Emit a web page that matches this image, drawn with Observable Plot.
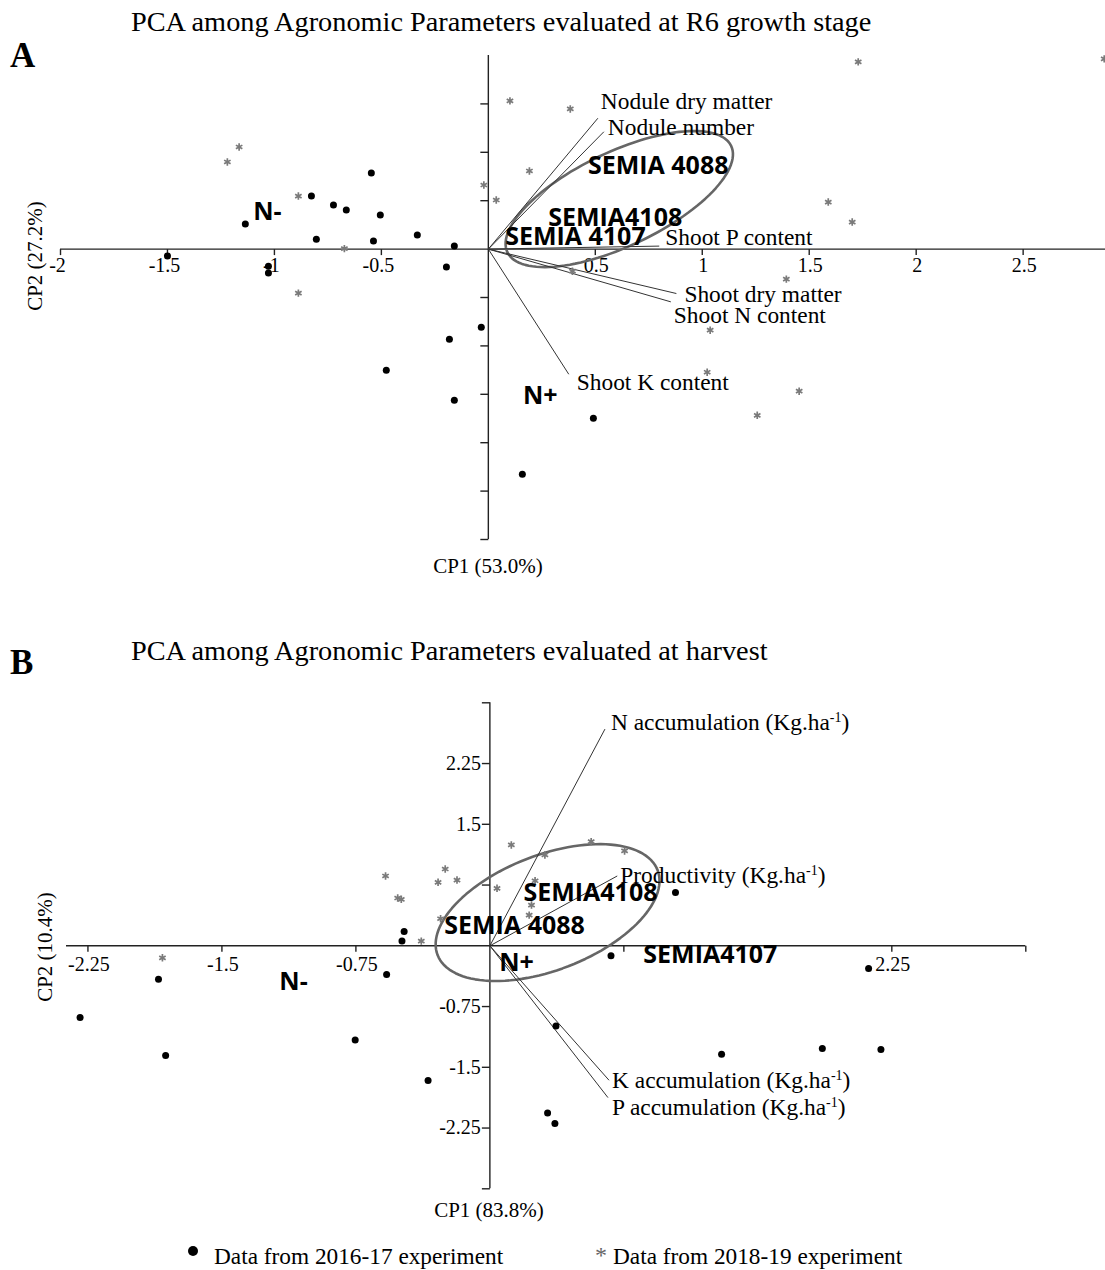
<!DOCTYPE html>
<html>
<head>
<meta charset="utf-8">
<script src="https://cdn.jsdelivr.net/npm/d3@7"></script>
<script src="https://cdn.jsdelivr.net/npm/@observablehq/plot@0.6"></script>
<style>
  body { margin: 0; background: #fff; }
  #page { position: relative; width: 1105px; height: 1270px; overflow: hidden; font-family: "Liberation Serif", "Times New Roman", serif; color: #000; }
  .abs { position: absolute; white-space: nowrap; line-height: 1; }
  .c { transform: translate(-50%, -50%); }
  .l { transform: translate(0, -50%); }
  .title { font-size: 28.3px; }
  .panelLetter { font-size: 35px; font-weight: bold; }
  .axlab { font-size: 21px; }
  .rot { transform: translate(-50%, -50%) rotate(-90deg); }
  .leg { font-size: 23.3px; }
  .plot { position: absolute; left: 0; }
  .plot svg { overflow: visible; display: block; }
</style>
</head>
<body>
<div id="page">
  <div class="abs l title" style="left:131px; top:22px;">PCA among Agronomic Parameters evaluated at R6 growth stage</div>
  <div class="abs l panelLetter" style="left:10px; top:55px;">A</div>
  <div id="plotA" class="plot" style="top:-2px;"></div>
  <div class="abs rot axlab" style="left:35px; top:256px;">CP2 (27.2%)</div>
  <div class="abs c axlab" style="left:488px; top:566px;">CP1 (53.0%)</div>

  <div class="abs l title" style="left:131px; top:651px;">PCA among Agronomic Parameters evaluated at harvest</div>
  <div class="abs l panelLetter" style="left:10px; top:662px;">B</div>
  <div id="plotB" class="plot" style="top:639px;"></div>
  <div class="abs rot axlab" style="left:45px; top:947px;">CP2 (10.4%)</div>
  <div class="abs c axlab" style="left:489px; top:1210px;">CP1 (83.8%)</div>

  <div class="abs" style="left:188px; top:1246px; width:10px; height:10px; border-radius:50%; background:#000;"></div>
  <div class="abs l leg" style="left:214px; top:1257px;">Data from 2016-17 experiment</div>
  <div class="abs l leg" style="left:595px; top:1255px; color:#666; font-size:24px;">*</div>
  <div class="abs l leg" style="left:613px; top:1257px;">Data from 2018-19 experiment</div>
</div>

<script>
// ---------------- Panel A data (R6 growth stage) ----------------
const xTicksA = [-2, -1.5, -1, -0.5, 0.5, 1, 1.5, 2, 2.5];
const xTickLabelsA = ["-2", "-1.5", "-1", "-0.5", "0.5", "1", "1.5", "2", "2.5"];
const yTicksA = [1.5, 1, 0.5, -0.5, -1, -1.5, -2, -2.5, -3];

const dotsA_x = [-0.547, -0.827, -0.724, -0.664, -0.505, -1.136, -0.804, -0.537, -0.332, -0.159, -1.50, -1.028, -1.028, -0.196, -0.033, -0.182, -0.477, -0.159, 0.491, 0.159];
const dotsA_y = [0.786, 0.548, 0.455, 0.403, 0.352, 0.259, 0.103, 0.083, 0.145, 0.031, -0.072, -0.176, -0.248, -0.186, -0.807, -0.931, -1.251, -1.561, -1.748, -2.327];

const starsA_x = [-1.165, -1.22, -0.888, -0.673, -0.888, 0.101, 0.383, 0.192, -0.021, 0.037, 1.729, 2.879, 1.589, 1.701, 1.393, 1.037, 1.023, 1.453, 1.257, 0.393];
const starsA_y = [1.055, 0.90, 0.548, 0.005, -0.455, 1.531, 1.448, 0.807, 0.662, 0.507, 1.934, 1.965, 0.486, 0.279, -0.31, -0.838, -1.272, -1.468, -1.717, -0.228];

const varsA = ["Nodule dry matter", "Nodule number", "Shoot P content", "Shoot dry matter", "Shoot N content", "Shoot K content"];
const varsA_x = [0.512, 0.540, 0.799, 0.879, 0.853, 0.376];
const varsA_y = [1.352, 1.212, 0.031, -0.459, -0.545, -1.293];

const groupsA = ["SEMIA 4088", "SEMIA4108", "SEMIA 4107", "N-", "N+"];
const groupsA_x = [0.794, 0.593, 0.407, -1.033, 0.243];
const groupsA_y = [0.858, 0.321, 0.124, 0.383, -1.520];

// ellipse: centre x, centre y, semi-major, semi-minor (x units), angle (deg)
const ellipseA = [0.612, 0.517, 0.579, 0.220, 25.4];

// ---------------- Panel B data (harvest) ----------------
const xTicksB = [-2.25, -1.5, -0.75, 0.75, 2.25, 3];
const xLabelB_at = [-2.25, -1.5, -0.75, 2.25];
const xLabelB_text = ["-2.25", "-1.5", "-0.75", "2.25"];
const yTicksB = [3, 2.25, 1.5, 0.75, -0.75, -1.5, -2.25, -3];
const yLabelB_at = [2.25, 1.5, -0.75, -1.5, -2.25];
const yLabelB_text = ["2.25", "1.5", "-0.75", "-1.5", "-2.25"];

const dotsB_x = [-0.480, -0.492, -1.855, -0.578, -2.294, -1.815, -0.754, -0.346, 0.323, 0.364, 0.370, 1.297, 1.861, 2.189, 2.120, 1.039, 0.678];
const dotsB_y = [0.178, 0.058, -0.412, -0.354, -0.885, -1.355, -1.162, -1.664, -2.064, -2.195, -0.989, -1.339, -1.268, -1.281, -0.279, 0.659, -0.124];

const starsB_x = [-0.584, -0.250, -0.290, -0.184, -0.516, -0.496, -0.276, -0.384, 0.120, 0.040, 0.253, 0.233, 0.220, -1.833, 0.308, 0.567, 0.754];
const starsB_y = [0.862, 0.948, 0.784, 0.812, 0.590, 0.574, 0.334, 0.058, 1.245, 0.710, 0.803, 0.503, 0.379, -0.148, 1.121, 1.286, 1.171];

const varsB = ["N accumulation (Kg.ha-1)", "Productivity (Kg.ha-1)", "K accumulation (Kg.ha-1)", "P accumulation (Kg.ha-1)"];
const varsB_x = [0.644, 0.713, 0.667, 0.661];
const varsB_y = [2.675, 0.862, -1.660, -1.874];

const groupsB = ["SEMIA4108", "SEMIA 4088", "SEMIA4107", "N+", "N-"];
const groupsB_x = [0.563, 0.138, 1.234, 0.149, -1.099];
const groupsB_y = [0.651, 0.244, -0.115, -0.214, -0.449];

const ellipseB = [0.323, 0.410, 0.660, 0.322, 21.1];

// ---------------- styling (not data) ----------------
const labelOffsetsA = [[3, -17], [4, -4], [6, -9], [8, 1], [3, 14], [8, 8]];
const labelOffsetsB = [[6, -7], [3, 0], [3, 0], [4, 10]];
const serif = "Liberation Serif";
const boldSans = "Open Sans";

const tickDown = {draw(ctx, size) { const l = Math.sqrt(size / Math.PI); ctx.moveTo(0, 0); ctx.lineTo(0, l); }};
const tickLeft = {draw(ctx, size) { const l = Math.sqrt(size / Math.PI); ctx.moveTo(0, 0); ctx.lineTo(-l, 0); }};

function ellipsePoints(p, k) {
  const [cx, cy, a, b, deg] = p;
  const th = deg * Math.PI / 180;
  return d3.range(0, 361, 3).map(t => {
    const r = t * Math.PI / 180;
    const ux = a * Math.cos(r), uy = b * Math.sin(r);
    return {x: cx + ux * Math.cos(th) - uy * Math.sin(th), y: cy + (ux * Math.sin(th) + uy * Math.cos(th)) * k};
  });
}

function zip(xs, ys) { return xs.map((x, i) => ({x, y: ys[i]})); }

function panel(cfg) {
  const {width, height, mt, mb, ml, mr, xd, yd} = cfg;
  const k = ((width - ml - mr) / (xd[1] - xd[0])) / ((height - mt - mb) / (yd[1] - yd[0]));
  const labIdx = cfg.xLabAt.map((d, i) => i);
  const marks = [
    Plot.ruleY([0], {x1: xd[0], x2: xd[1], stroke: "#222", strokeWidth: 1.4}),
    Plot.ruleX([0], {y1: yd[0], y2: yd[1], stroke: "#222", strokeWidth: 1.4}),
    Plot.dot(cfg.xTicks, {x: d => d, y: () => 0, symbol: tickDown, r: 6, stroke: "#222", fill: "none", strokeWidth: 1.4}),
    Plot.dot(cfg.yTicks, {x: () => 0, y: d => d, symbol: tickLeft, r: 8, stroke: "#222", fill: "none", strokeWidth: 1.4}),
    Plot.text(labIdx.filter(i => cfg.xLabAt[i] < 0), {x: i => cfg.xLabAt[i], y: () => 0, text: i => cfg.xLabText[i], dx: cfg.negDx, dy: cfg.xLabDy, fontSize: 20, fontFamily: serif, fill: "#000"}),
    Plot.text(labIdx.filter(i => cfg.xLabAt[i] > 0), {x: i => cfg.xLabAt[i], y: () => 0, text: i => cfg.xLabText[i], dx: 1, dy: cfg.xLabDy, fontSize: 20, fontFamily: serif, fill: "#000"}),
  ];
  if (cfg.yLabAt) marks.push(Plot.text(cfg.yLabAt, {x: () => 0, y: d => d, text: (d, i) => cfg.yLabText[i], dx: -9, textAnchor: "end", fontSize: 20, fontFamily: serif, fill: "#000"}));
  marks.push(
    Plot.line(ellipsePoints(cfg.ellipse, k), {x: "x", y: "y", stroke: "#666", strokeWidth: 2.6}),
    Plot.link(cfg.vars.map((v, i) => i), {x1: () => 0, y1: () => 0, x2: i => cfg.vx[i], y2: i => cfg.vy[i], stroke: "#333", strokeWidth: 1}),
    Plot.dot(zip(cfg.starsX, cfg.starsY), {x: "x", y: "y", symbol: "asterisk", r: 3.5, stroke: "#7a7a7a", strokeWidth: 1.7}),
    Plot.dot(zip(cfg.dotsX, cfg.dotsY), {x: "x", y: "y", r: 3.5, fill: "#000"}),
    ...cfg.vars.map((v, i) => Plot.text([i], {x: i => cfg.vx[i], y: i => cfg.vy[i], text: () => v, textAnchor: "start", dx: cfg.offsets[i][0], dy: cfg.offsets[i][1], fontSize: 23.4, fontFamily: serif, fill: "#000"})),
    Plot.text(cfg.groups.map((g, i) => i), {x: i => cfg.gx[i], y: i => cfg.gy[i], text: i => cfg.groups[i], fontSize: 25, fontWeight: "bold", fontFamily: boldSans, fill: "#000"})
  );
  const svg = Plot.plot({
    width, height, marginTop: mt, marginBottom: mb, marginLeft: ml, marginRight: mr,
    x: {domain: xd, axis: null}, y: {domain: yd, axis: null},
    style: {background: "transparent", overflow: "visible"},
    marks
  });
  // superscript "-1" in unit labels
  svg.querySelectorAll("text").forEach(t => {
    const s = t.textContent;
    if (s.includes("Kg.ha-1")) {
      const idx = s.indexOf("-1");
      const pre = s.slice(0, idx), post = s.slice(idx + 2);
      t.textContent = "";
      t.appendChild(document.createTextNode(pre));
      const sup = document.createElementNS("http://www.w3.org/2000/svg", "tspan");
      sup.setAttribute("dy", "-8"); sup.setAttribute("font-size", "14"); sup.textContent = "-1";
      t.appendChild(sup);
      const rest = document.createElementNS("http://www.w3.org/2000/svg", "tspan");
      rest.setAttribute("dy", "8"); rest.textContent = post;
      t.appendChild(rest);
    }
  });
  return svg;
}

document.getElementById("plotA").appendChild(panel({
  width: 1105, height: 600, mt: 57, mb: 59, ml: 60, mr: 0, xd: [-2, 2.885], yd: [-3, 2],
  xTicks: xTicksA, yTicks: yTicksA, xLabAt: xTicksA, xLabText: xTickLabelsA, xLabDy: 16, negDx: -3,
  dotsX: dotsA_x, dotsY: dotsA_y, starsX: starsA_x, starsY: starsA_y,
  vars: varsA, vx: varsA_x, vy: varsA_y, offsets: labelOffsetsA,
  groups: groupsA, gx: groupsA_x, gy: groupsA_y, ellipse: ellipseA
}));

document.getElementById("plotB").appendChild(panel({
  width: 1105, height: 600, mt: 63.3, mb: 50.7, ml: 66, mr: 79.7, xd: [-2.37, 3], yd: [-3, 3],
  xTicks: xTicksB, yTicks: yTicksB, xLabAt: xLabelB_at, xLabText: xLabelB_text, xLabDy: 19, negDx: 1,
  yLabAt: yLabelB_at, yLabText: yLabelB_text,
  dotsX: dotsB_x, dotsY: dotsB_y, starsX: starsB_x, starsY: starsB_y,
  vars: varsB, vx: varsB_x, vy: varsB_y, offsets: labelOffsetsB,
  groups: groupsB, gx: groupsB_x, gy: groupsB_y, ellipse: ellipseB
}));
</script>
</body>
</html>
